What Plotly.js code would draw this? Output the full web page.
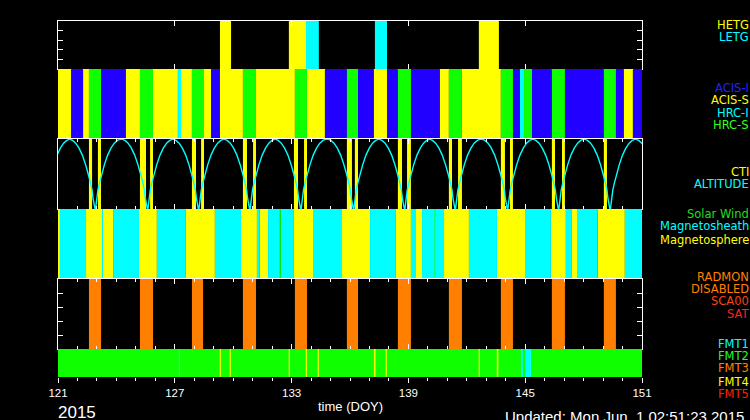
<!DOCTYPE html>
<html>
<head>
<meta charset="utf-8">
<script src="https://cdn.plot.ly/plotly-3.0.1.min.js"></script>
<style>
  html, body { margin: 0; padding: 0; background: #000; }
  #chart { width: 750px; height: 420px; }
</style>
</head>
<body>
<div id="chart"></div>
<script>
// ---------------- DATA ----------------
// time axis (day of year 2015)
const doyRange = [121, 151];
const tickStart = 121;
const yearLabel = '2015';
const axisTitle = 'time (DOY)';
const updatedLabel = 'Updated: Mon Jun\u00a0\u00a01 02:51:23 2015';

// Panel 1: gratings  [start, end]
const hetg = [[129.32, 129.89], [132.86, 133.74], [142.62, 143.65]];
const letg = [[133.74, 134.40], [137.28, 137.90]];

// Panel 2: instruments
const acisI = [[121.67, 122.29], [123.21, 124.49], [128.86, 129.32], [134.71, 135.84],
               [136.41, 137.23], [137.90, 138.46], [139.13, 140.62], [144.37, 144.73],
               [145.35, 146.37], [147.04, 149.04], [149.66, 150.07], [150.53, 151.00]];
const acisS = [[121.00, 121.67], [122.29, 122.59], [124.49, 125.21], [125.88, 127.16],
               [127.32, 127.88], [128.50, 128.86], [129.32, 130.50], [131.17, 133.17],
               [133.79, 134.71], [137.23, 137.90], [140.62, 141.08], [141.75, 143.75],
               [150.07, 150.53]];
const hrcI  = [[127.16, 127.32], [144.73, 144.94]];
const hrcS  = [[122.59, 123.21], [125.21, 125.88], [127.88, 128.50], [130.50, 131.17],
               [133.17, 133.79], [135.84, 136.41], [138.46, 139.13], [141.08, 141.75],
               [143.75, 144.37], [144.94, 145.35], [146.37, 147.04], [149.04, 149.66]];

// Panel 3: CTI intervals and altitude (normalised)
const cti = [[122.59, 122.75], [123.05, 123.21], [125.21, 125.52], [125.73, 125.88],
             [127.88, 128.09], [128.35, 128.50], [130.50, 130.71], [131.02, 131.17],
             [133.12, 133.33], [133.64, 133.79], [135.84, 136.10], [136.25, 136.41],
             [138.46, 138.67], [138.93, 139.13], [141.08, 141.24], [141.55, 141.75],
             [143.75, 143.96], [144.22, 144.37], [146.37, 146.53], [146.89, 147.04],
             [149.04, 149.20]];
// perigee times (altitude minima); first and last lie just outside the window
const altMinima = [120.30, 122.90, 125.59, 128.21, 130.84, 133.46, 136.17,
                   138.79, 141.39, 144.08, 146.70, 149.35, 151.98];
// altitude after a perigee: days since perigee -> normalised altitude
const altProfileDays = [0, 0.03, 0.05, 0.10, 0.15, 0.22, 0.31, 0.39, 0.48, 0.65, 0.82, 0.99, 1.15, 1.28];
const altProfileVals = [0, 0.0, 0.05, 0.15, 0.27, 0.36, 0.46, 0.55, 0.63, 0.77, 0.87, 0.94, 0.98, 0.995];

// Panel 4: radiation zones
const magnetosphere = [[121.00, 121.10], [122.44, 123.26], [123.31, 123.83], [125.16, 126.08],
                       [127.57, 129.06], [130.40, 131.22], [131.37, 131.79], [133.12, 134.10],
                       [135.59, 137.03], [138.36, 139.13], [139.39, 139.70], [140.83, 142.11],
                       [143.55, 144.99], [146.32, 147.09], [147.40, 147.66], [148.73, 150.12]];
const magnetosheath = [[121.10, 122.44], [123.26, 123.31], [123.83, 125.16], [126.08, 127.57],
                       [129.06, 130.40], [131.22, 131.37], [131.79, 132.40], [132.45, 133.12],
                       [134.10, 135.59], [137.03, 138.36], [139.13, 139.39], [139.70, 140.83],
                       [142.11, 143.55], [144.99, 146.32], [147.09, 147.40], [147.66, 148.73],
                       [150.12, 151.00]];
const solarWind = [[132.40, 132.45], [140.34, 140.38]];

// Panel 5: RADMON disabled
const radmonDisabled = [[122.59, 123.21], [125.21, 125.88], [127.88, 128.45], [130.50, 131.17],
                        [133.17, 133.79], [135.84, 136.41], [138.46, 139.13], [141.08, 141.75],
                        [143.75, 144.37], [146.37, 147.04], [149.04, 149.66]];

// Panel 6: telemetry formats
const fmt2 = [[121.00, 151.00]];
const fmt4 = [[129.31, 129.37], [129.82, 129.88], [132.85, 132.91], [133.73, 133.79],
              [134.34, 134.40], [137.23, 137.31], [137.83, 137.89], [142.61, 142.67],
              [143.54, 143.62]];
const fmt1 = [[127.21, 127.25], [144.78, 144.88], [144.99, 145.30]];

// legend labels
const legendLabels = ['HETG', 'LETG', 'ACIS-I', 'ACIS-S', 'HRC-I', 'HRC-S', 'CTI', 'ALTITUDE',
                      'Solar Wind', 'Magnetosheath', 'Magnetosphere', 'RADMON', 'DISABLED',
                      'SCA00', 'SAT', 'FMT1', 'FMT2', 'FMT3', 'FMT4', 'FMT5'];

// ---------------- BUILD ----------------
const L = 58, R = 642, T = 21, B = 377;
const px2paperX = x => (x - L) / (R - L);
const px2paperY = y => (B - y) / (B - T);
const bounds = [21, 69, 139, 209, 279, 349, 377];
const dom = i => [px2paperY(bounds[i + 1]), px2paperY(bounds[i])];

const YEL = '#ffff00', CYA = '#00ffff', BLU = '#2200ff', GRN = '#10ff00', ORA = '#ff7f00';

function bars(intervals, color, xa, ya, top) {
  return {
    type: 'bar',
    x: intervals.map(d => (d[0] + d[1]) / 2),
    width: intervals.map(d => d[1] - d[0]),
    y: intervals.map(() => top),
    base: 0,
    marker: { color: color, line: { width: 0 } },
    xaxis: xa, yaxis: ya,
    hoverinfo: 'skip', showlegend: false
  };
}

// altitude curve from perigee times and the read profile
const altX = [], altY = [];
for (let i = 0; i < altMinima.length - 1; i++) {
  const m0 = altMinima[i], m1 = altMinima[i + 1], half = (m1 - m0) / 2;
  for (let k = 0; k < altProfileDays.length; k++) {
    if (altProfileDays[k] < half) { altX.push(m0 + altProfileDays[k]); altY.push(altProfileVals[k]); }
  }
  for (let k = altProfileDays.length - 1; k >= 0; k--) {
    if (altProfileDays[k] < half) { altX.push(m1 - altProfileDays[k]); altY.push(altProfileVals[k]); }
  }
}

const traces = [
  bars(hetg, YEL, 'x', 'y', 5),
  bars(letg, CYA, 'x', 'y', 5),
  bars(acisI, BLU, 'x2', 'y2', 1),
  bars(acisS, YEL, 'x2', 'y2', 1),
  bars(hrcI, CYA, 'x2', 'y2', 1),
  bars(hrcS, GRN, 'x2', 'y2', 1),
  bars(cti, YEL, 'x3', 'y3', 1),
  { type: 'scatter', mode: 'lines', x: altX, y: altY, xaxis: 'x3', yaxis: 'y3',
    line: { color: CYA, width: 1.4 }, hoverinfo: 'skip', showlegend: false },
  bars(magnetosphere, YEL, 'x4', 'y4', 1),
  bars(magnetosheath, CYA, 'x4', 'y4', 1),
  bars(solarWind, GRN, 'x4', 'y4', 1),
  bars(radmonDisabled, ORA, 'x5', 'y5', 5),
  bars(fmt2, GRN, 'x6', 'y6', 1),
  bars(fmt4, YEL, 'x6', 'y6', 1),
  bars(fmt1, CYA, 'x6', 'y6', 1)
];

const baseX = { range: doyRange, showgrid: false, zeroline: false, fixedrange: true,
                showticklabels: false, linecolor: '#fff', tickcolor: '#fff', linewidth: 1.2 };
const baseY = { showgrid: false, zeroline: false, fixedrange: true, showticklabels: false,
                linecolor: '#fff', tickcolor: '#fff', linewidth: 1.2 };
const boxX = (anchor, minor) => Object.assign({}, baseX, {
  anchor: anchor, showline: true, mirror: 'ticks', ticks: 'inside', ticklen: 5, tickwidth: 1,
  tickmode: 'linear', tick0: tickStart, dtick: 6,
  minor: minor ? { ticks: 'inside', ticklen: 3, dtick: 1, tick0: tickStart, tickcolor: '#fff', tickwidth: 1 } : undefined
});
const hidX = anchor => Object.assign({}, baseX, { anchor: anchor, showline: false, ticks: '' });

const legendStyle = [
  [YEL, 25], [CYA, 37], ['#2222ff', 88], [YEL, 100], [CYA, 113], ['#33ff22', 125],
  [YEL, 172], [CYA, 184], ['#22dd22', 214], [CYA, 226], [YEL, 240],
  ['#ff8000', 277], ['#ff8000', 289], ['#ff4010', 301], ['#ff2020', 314],
  [CYA, 344], ['#22ff22', 356], ['#ff8000', 368], [YEL, 382], ['#ff2000', 394]
];
const annotations = legendLabels.map((t, i) => ({
  text: t, xref: 'paper', yref: 'paper', x: px2paperX(750), y: px2paperY(legendStyle[i][1]),
  xanchor: 'right', yanchor: 'middle', showarrow: false, borderpad: 0,
  font: { family: 'DejaVu Sans', size: 11.5, color: legendStyle[i][0] }
}));
annotations.push(
  { text: yearLabel, xref: 'paper', yref: 'paper', x: px2paperX(77), y: px2paperY(412),
    xanchor: 'center', yanchor: 'middle', showarrow: false, borderpad: 0,
    font: { family: 'Liberation Sans', size: 17, color: '#fff' } },
  { text: axisTitle, xref: 'paper', yref: 'paper', x: px2paperX(350), y: px2paperY(406),
    xanchor: 'center', yanchor: 'middle', showarrow: false,
    font: { family: 'Liberation Sans', size: 13, color: '#fff' } },
  { text: updatedLabel, xref: 'paper', yref: 'paper', x: px2paperX(503), y: px2paperY(416),
    xanchor: 'left', yanchor: 'middle', showarrow: false,
    font: { family: 'Liberation Sans', size: 15, color: '#fff' } }
);

const layout = {
  width: 750, height: 420,
  margin: { l: L, r: 750 - R, t: T, b: 420 - B, pad: 0 },
  paper_bgcolor: '#000', plot_bgcolor: '#000',
  barmode: 'overlay', showlegend: false,
  xaxis: boxX('y', false),
  yaxis: Object.assign({}, baseY, { domain: dom(0), range: [0, 5], anchor: 'x', showline: true,
          mirror: 'ticks', ticks: 'inside', ticklen: 5, tickvals: [1, 2, 3, 4] }),
  xaxis2: hidX('y2'),
  yaxis2: Object.assign({}, baseY, { domain: dom(1), range: [0, 1], anchor: 'x2', showline: false, ticks: '' }),
  xaxis3: boxX('y3', true),
  yaxis3: Object.assign({}, baseY, { domain: dom(2), range: [0, 1], anchor: 'x3', showline: true,
          mirror: true, ticks: '' }),
  xaxis4: hidX('y4'),
  yaxis4: Object.assign({}, baseY, { domain: dom(3), range: [0, 1], anchor: 'x4', showline: false, ticks: '' }),
  xaxis5: boxX('y5', true),
  yaxis5: Object.assign({}, baseY, { domain: dom(4), range: [0, 5], anchor: 'x5', showline: true,
          mirror: 'ticks', ticks: 'inside', ticklen: 5, tickvals: [1, 2, 3, 4] }),
  xaxis6: Object.assign({}, baseX, { anchor: 'y6', showline: false, ticks: 'outside', ticklen: 5,
          tickwidth: 1, tickmode: 'linear', tick0: tickStart, dtick: 6, showticklabels: true,
          tickfont: { family: 'Liberation Sans', size: 11.5, color: '#fff' },
          minor: { ticks: 'outside', ticklen: 3, dtick: 1, tick0: tickStart, tickcolor: '#fff', tickwidth: 1 } }),
  yaxis6: Object.assign({}, baseY, { domain: dom(5), range: [0, 1], anchor: 'x6', showline: false, ticks: '' }),
  annotations: annotations
};

Plotly.newPlot('chart', traces, layout, { staticPlot: true, displayModeBar: false });
</script>
</body>
</html>
